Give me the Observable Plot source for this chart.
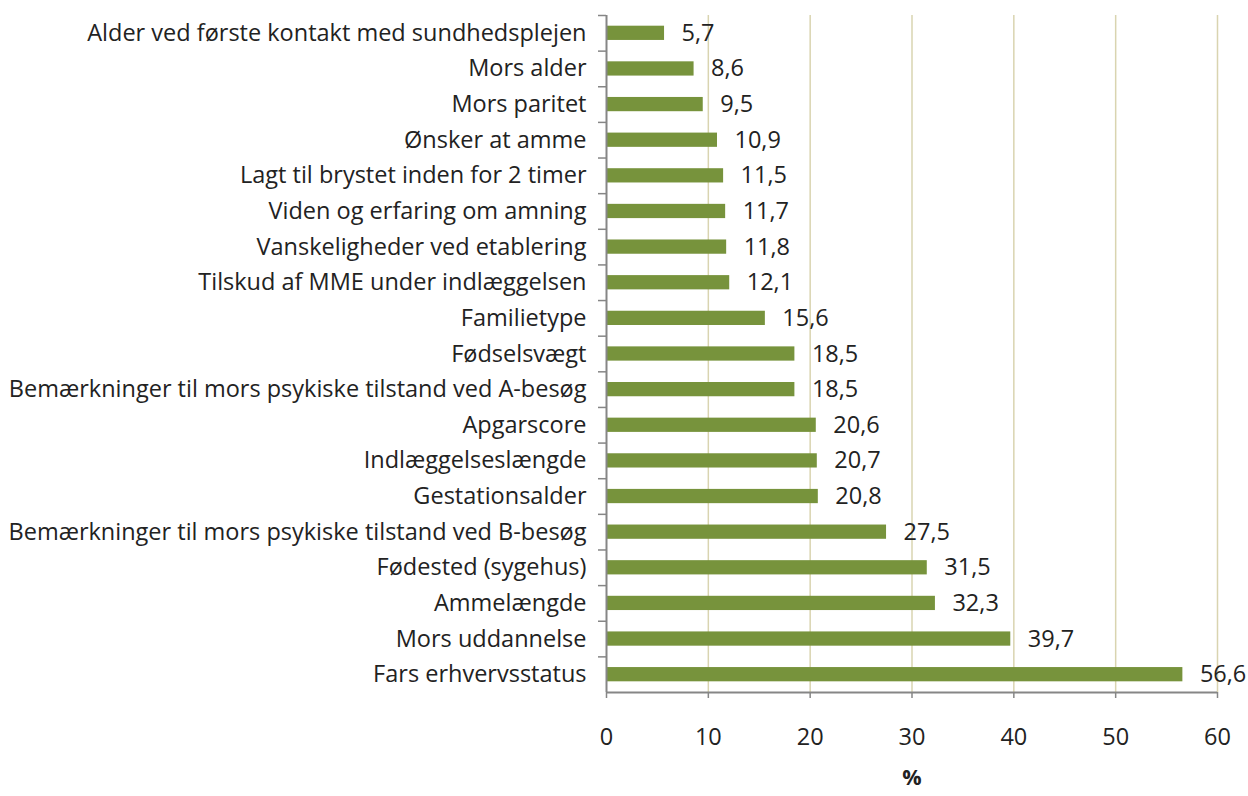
<!DOCTYPE html>
<html>
<head>
<meta charset="utf-8">
<script src="https://cdn.jsdelivr.net/npm/d3@7"></script>
<script src="https://cdn.jsdelivr.net/npm/@observablehq/plot@0.6"></script>
<style>
  body { margin: 0; background: #fff; }
</style>
</head>
<body>
<div id="chart"></div>
<script>
const categories = [
  "Alder ved første kontakt med sundhedsplejen",
  "Mors alder",
  "Mors paritet",
  "Ønsker at amme",
  "Lagt til brystet inden for 2 timer",
  "Viden og erfaring om amning",
  "Vanskeligheder ved etablering",
  "Tilskud af MME under indlæggelsen",
  "Familietype",
  "Fødselsvægt",
  "Bemærkninger til mors psykiske tilstand ved A-besøg",
  "Apgarscore",
  "Indlæggelseslængde",
  "Gestationsalder",
  "Bemærkninger til mors psykiske tilstand ved B-besøg",
  "Fødested (sygehus)",
  "Ammelængde",
  "Mors uddannelse",
  "Fars erhvervsstatus"
];
const values = [5.7, 8.6, 9.5, 10.9, 11.5, 11.7, 11.8, 12.1, 15.6, 18.5, 18.5, 20.6, 20.7, 20.8, 27.5, 31.5, 32.3, 39.7, 56.6];
const xTicks = [0, 10, 20, 30, 40, 50, 60];
const gridTicks = [10, 20, 30, 40, 50, 60];
const xLabel = "%";

const data = categories.map((c, i) => ({category: c, value: values[i]}));
const fmt = v => v.toFixed(1).replace(".", ",");

const W = 1248, H = 796;
const mTop = 15, mBottom = 104, mLeft = 606, mRight = 31;
const step = (H - mTop - mBottom) / categories.length;
const axisColor = "#868686";
const font = "'Open Sans', Lato, sans-serif";
const fs = 23.5;

const plot = Plot.plot({
  width: W,
  height: H,
  marginTop: mTop,
  marginBottom: mBottom,
  marginLeft: mLeft,
  marginRight: mRight,
  style: {fontFamily: font, fontSize: fs + "px", color: "#222", background: "#fff"},
  x: {domain: [0, 60]},
  y: {domain: categories, paddingInner: 0.6, paddingOuter: 0.3, round: false},
  marks: [
    Plot.ruleX(gridTicks, {stroke: "#d9d4b0", strokeWidth: 1.5}),
    Plot.barX(data, {x: "value", y: "category", fill: "#77933c"}),
    Plot.text(data, {x: "value", y: "category", text: d => fmt(d.value), textAnchor: "start", dx: 17, fontSize: fs, fill: "#222"}),
    Plot.ruleX([0], {stroke: axisColor, strokeWidth: 2}),
    Plot.ruleY([categories[categories.length - 1]], {dy: step / 2, stroke: axisColor, strokeWidth: 2}),
    Plot.axisY({tickSize: 8, tickFormat: () => "", dy: -step / 2, stroke: axisColor, strokeWidth: 1.5, label: null}),
    Plot.axisY({tickSize: 0, tickPadding: 20, fontSize: fs, fill: "#222", label: null}),
    Plot.axisX(xTicks, {tickSize: 6, tickPadding: 30, stroke: axisColor, strokeWidth: 1.5, fontSize: fs, fill: "#222", label: null}),
    Plot.text([xLabel], {frameAnchor: "bottom", dy: 92, fontWeight: "bold", fontSize: fs - 2, fill: "#222"})
  ]
});
document.getElementById("chart").appendChild(plot);
</script>
</body>
</html>
